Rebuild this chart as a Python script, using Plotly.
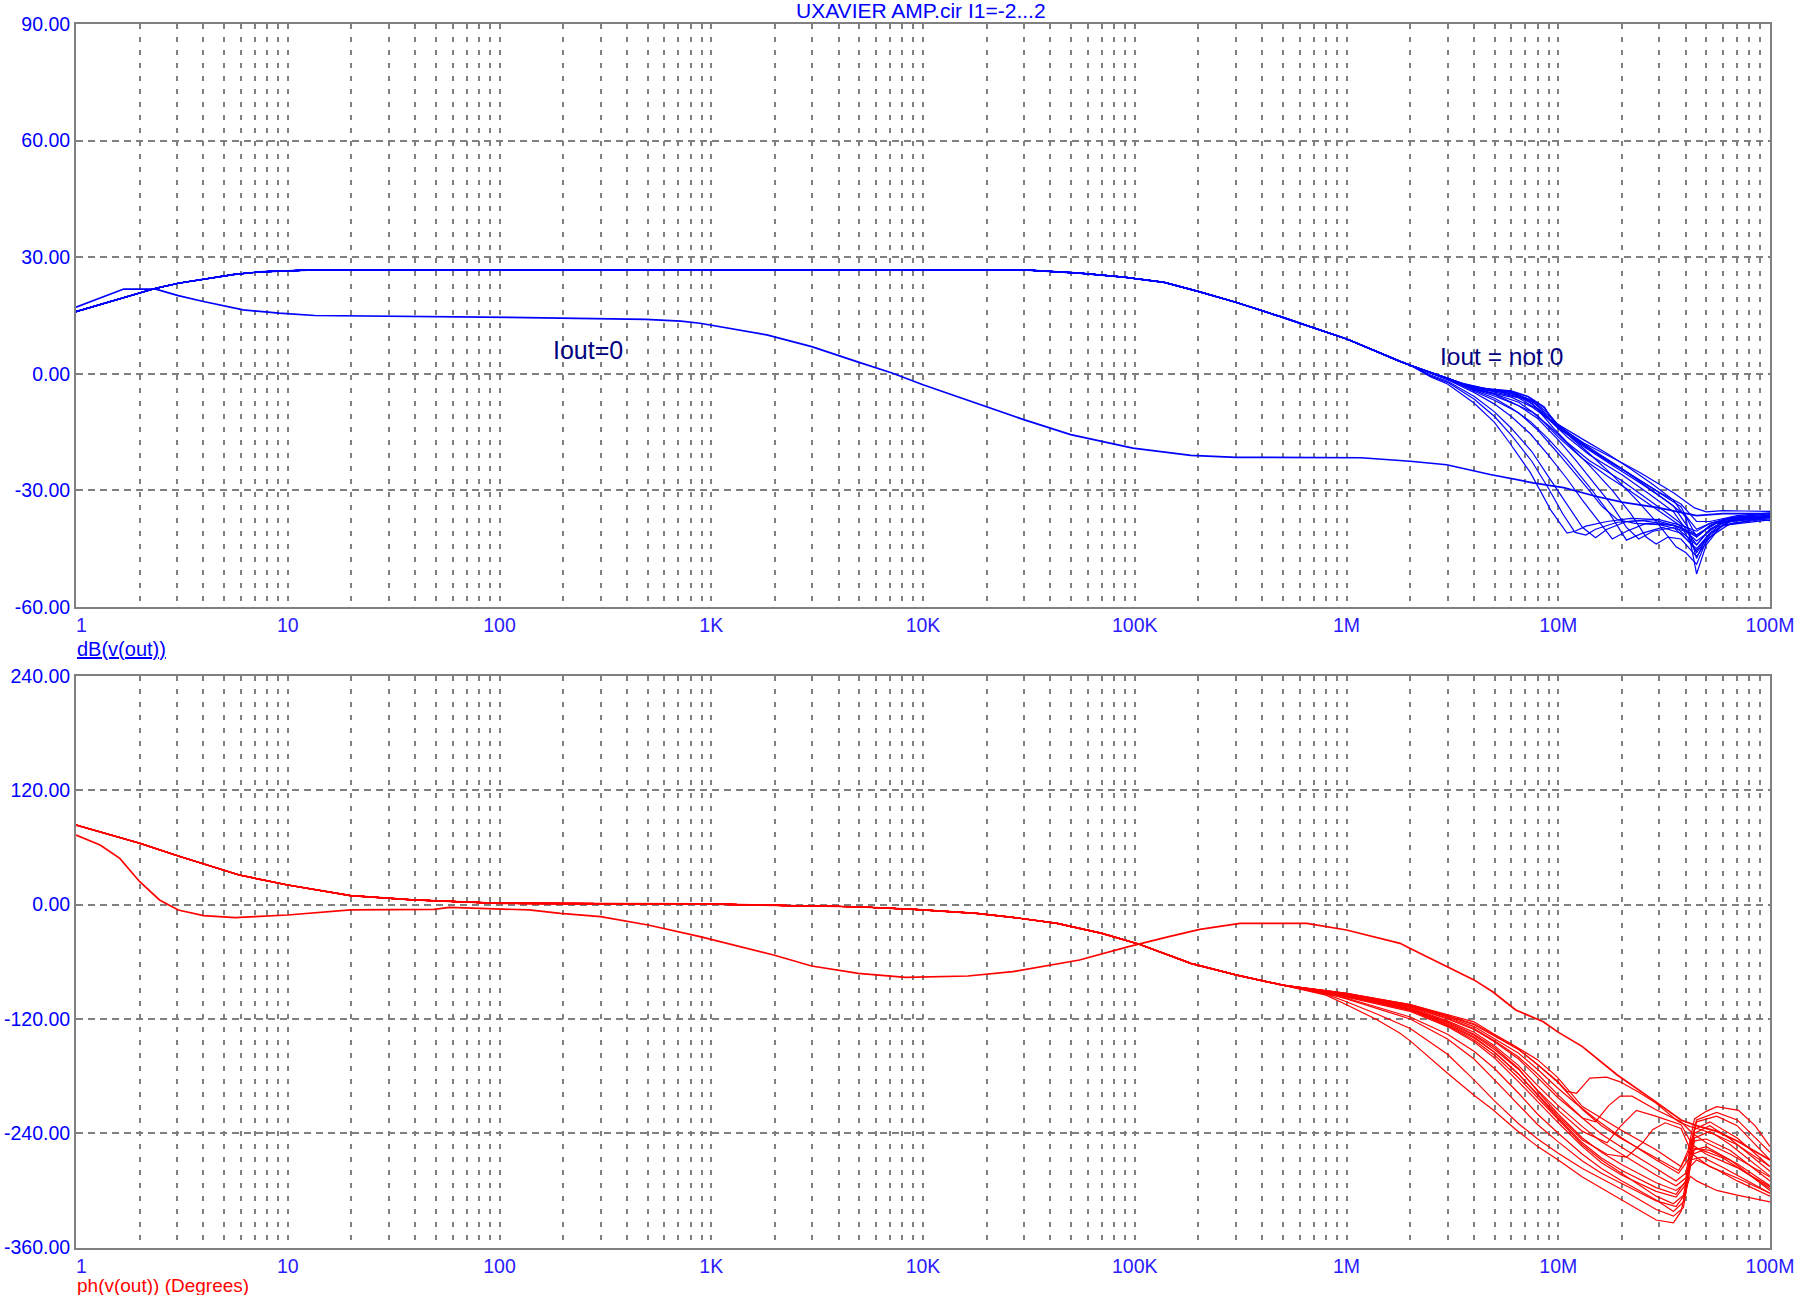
import plotly.graph_objects as go

# ---------------- page geometry (pixels in the 1808x1295 window) ----------------
W, H = 1808, 1295
X0, X1 = 76, 1770
TOP_Y0, TOP_Y1 = 24, 607
BOT_Y0, BOT_Y1 = 676, 1247.6

# ---------------- ticks ----------------
freq_ticks = [1, 10, 100, 1e3, 1e4, 1e5, 1e6, 1e7, 1e8]
freq_tick_labels = ["\u20071", "10", "100", "1K", "10K", "100K", "1M", "10M", "100M"]
db_ticks = [-60, -30, 0, 30, 60, 90]
db_tick_labels = ["-60.00", "-30.00", "0.00", "30.00", "60.00", "90.00"]
deg_ticks = [-360, -240, -120, 0, 120, 240]
deg_tick_labels = ["-360.00", "-240.00", "-120.00", "0.00", "120.00", "240.00"]

# ---------------- magnitude: Iout != 0 common trunk (Hz, dB) ----------------
trunk_mag_f = [1, 1.54, 2.0, 2.38, 3.04, 4, 5.6, 7.3, 12.4, 31.3e3, 54.8e3, 89e3, 138e3,
               199e3, 300e3, 488e3, 792e3, 1.01e6, 1.79e6, 2.0e6]
trunk_mag_db = [16.0, 19.0, 20.9, 22.0, 23.3, 24.3, 25.6, 26.2, 26.7, 26.7, 25.9, 24.85, 23.5,
                21.2, 18.4, 14.7, 10.9, 8.9, 3.2, 2.2]

# ---------------- magnitude: Iout = 0 curve (Hz, dB) ----------------
iout0_mag_f = [1, 1.68, 2.38, 3.04, 4, 6.16, 9.1, 13.4, 111, 490, 720, 885, 1.83e3, 2.98e3,
               4.83e3, 7.14e3, 10e3, 19.8e3, 29.9e3, 49.8e3, 98e3, 184e3, 300e3, 1.17e6,
               2.0e6, 2.97e6, 4.77e6, 7.6e6, 10.6e6, 15e6, 20e6, 30e6, 45e6, 60e6, 100e6]
iout0_mag_db = [17.15, 21.8, 21.8, 20.1, 18.6, 16.45, 15.6, 15.0, 14.5, 14.0, 13.55, 13.0, 10.0,
                7.0, 3.2, 0.2, -2.8, -8.4, -11.8, -15.65, -19.1, -21.0, -21.5, -21.6,
                -22.5, -23.4, -25.9, -28.06, -29.3, -31.5, -33.0, -34.5, -36.5, -36.0, -36.0]

# ---------------- magnitude: swept family above ~2 MHz (MHz, dB) ----------------
fan_mag_f_mhz = [
    [2.5, 3, 4, 5, 5.9, 7.4, 9.2, 11, 12, 13.5, 17, 22, 30, 38, 45, 52, 65, 100],
    [2.5, 3, 4, 5, 6, 7.5, 9, 11, 13, 15, 17, 21, 28, 38, 45, 52, 65, 100],
    [3, 4, 5, 6, 7.4, 9, 11, 13, 15.5, 18, 21, 26, 35, 45, 52, 65, 100],
    [3, 4, 5, 6, 7.4, 9, 11, 14, 17.5, 21, 25, 31, 38, 45, 52, 65, 100],
    [3, 4, 5, 6, 7.5, 9, 11, 14, 18, 22, 26, 29, 33, 38, 45, 52, 65, 100],
    [3, 4, 6, 7.5, 9, 11, 14, 18, 24, 30, 36, 40, 45, 50, 60, 100],
    [4, 6, 7.2, 8.6, 9.6, 11, 13.2, 17, 22, 28, 35, 40, 45, 50, 60, 75, 100],
    [4, 6, 7.2, 8.6, 9.6, 13.2, 20, 24.5, 35, 44, 50, 60, 75, 100],
    [4, 6, 7.5, 9, 11, 14, 20, 27, 35, 41, 45, 50, 60, 100],
    [4, 6, 7.5, 9, 11, 14, 20, 27, 35, 45, 52, 65, 100],
    [3.5, 5, 6.5, 8, 9.5, 11, 14, 20, 27, 33, 40, 45, 55, 100],
    [3.5, 5, 6.5, 8, 10, 13, 17, 22, 28, 38, 45, 52, 65, 100],
    [3.5, 5, 7, 8.5, 10, 12, 16, 22, 30, 38, 45, 52, 70, 100],
    [3, 4, 5, 6.5, 8, 10, 12, 14, 16, 19, 23, 30, 40, 45, 55, 100],
    [3.5, 5, 6.5, 8, 9, 10.5, 13, 18, 25, 33, 40, 45, 52, 70, 100],
    [3, 4, 5, 6.5, 8, 10, 12, 15, 18, 21, 24, 28, 35, 45, 52, 65, 100],
    [2.5, 3, 4, 5, 6, 7.5, 9, 10.5, 12, 13.5, 15, 19, 25, 35, 45, 55, 100],
    [4, 6, 7.5, 9, 10, 12, 16, 22, 30, 38, 45, 50, 60, 100],
]
fan_mag_db = [
    [-0.8, -2.6, -7.5, -12.5, -17.8, -25.5, -35, -41, -40.5, -39.2, -38, -37.2, -37.5, -39, -40.5, -38.5, -37, -36.5],
    [-0.3, -1.9, -5.8, -9.8, -14, -20, -26.5, -33.5, -39.5, -42.2, -40, -38, -37.5, -39.5, -42, -39, -37.2, -36.6],
    [-1.5, -4.8, -7.8, -11, -15.5, -21, -27, -32.5, -38, -42.5, -40.5, -38.5, -39, -44, -40, -37.5, -36.8],
    [-1.2, -4.2, -6.3, -8.8, -12.3, -16.8, -22, -29, -36, -42.8, -41, -39.5, -41, -45.5, -41, -38, -37],
    [-1.1, -3.9, -5.3, -7.3, -9.8, -13.3, -17.8, -23.5, -30, -36, -42, -43.8, -42, -42.5, -47, -42, -38.5, -37.3],
    [-1.1, -3.8, -6, -8.5, -11.7, -15.5, -20.5, -26, -33, -39, -44.5, -46, -49, -43, -39, -37.6],
    [-3.7, -4.5, -5.9, -8.8, -12.5, -14.5, -17, -20.5, -24.5, -28.5, -32.5, -37, -51.5, -44, -38.5, -37, -37.8],
    [-3.5, -4.4, -5.8, -8.5, -12.8, -17.8, -22.9, -25.5, -30.6, -34.5, -35.5, -35.2, -35.3, -35.4],
    [-3.7, -4.8, -7, -10.8, -15, -19.3, -24.5, -29.5, -34, -39.5, -47.5, -42, -38, -36.2],
    [-3.8, -5, -7.6, -11.8, -16.2, -20.8, -26, -31, -35.5, -44, -40, -37, -36],
    [-2.6, -4.6, -6.2, -9.2, -14, -17.6, -22.3, -27.5, -32.5, -36, -39.5, -41.5, -38.5, -36.5],
    [-2.8, -5.2, -7.3, -10.8, -16.3, -21.8, -26.3, -30.3, -34.3, -39.2, -46, -41.5, -37.5, -36.8],
    [-2.4, -4.3, -6.5, -10, -14, -17, -21.5, -26, -30.5, -33.5, -38, -38, -36.5, -35.8],
    [-1.3, -4.5, -6.8, -10, -14.5, -20.5, -25.5, -30, -34, -37.5, -38.5, -38.8, -40.5, -43, -39.5, -36.7],
    [-2.5, -4.4, -5.6, -8, -11.5, -14.5, -18.5, -23.5, -28.5, -33, -36.5, -40, -38.5, -36.8, -36],
    [-1.2, -4.0, -5.7, -8.2, -11.5, -17, -22, -28.5, -34, -39.5, -42.5, -40.5, -39.5, -45, -41, -38, -37],
    [-0.6, -2.2, -6.5, -11, -15.8, -22.5, -29.5, -36, -40.8, -41.5, -40, -38.2, -37.8, -39, -41.5, -38.5, -36.6],
    [-3.6, -4.6, -6.8, -10.2, -13.2, -16.5, -21, -25.8, -30.5, -34.2, -42, -40, -37.5, -36.4],
]

# ---------------- phase: Iout != 0 common trunk (Hz, degrees) ----------------
trunk_ph_f = [1, 2, 3.04, 4, 5.9, 10, 19.8, 39, 101, 890, 4.84e3, 9.1e3, 17.9e3, 26.5e3,
              43e3, 70e3, 105e3, 184e3, 300e3, 500e3]
trunk_ph_deg = [83.6, 64.4, 51.1, 42.7, 31.1, 20.6, 9.4, 4.9, 1.4, 0.7, -2.2, -4.9, -9.1, -13.3,
                -19.6, -30.1, -41.6, -61.6, -73.8, -84.5]

# ---------------- phase: Iout = 0 curve (Hz, degrees) ----------------
iout0_ph_f = [1, 1.3, 1.61, 2.0, 2.48, 3.04, 4, 5.65, 7, 10, 19.8, 49, 58, 138, 194, 300, 503,
              885, 1.97e3, 2.98e3, 4.95e3, 8.26e3, 16.3e3, 26.5e3, 54.8e3, 93.5e3, 145e3,
              203e3, 314e3, 650e3, 1.0e6, 1.79e6, 2.0e6, 4.0e6, 4.9e6, 6.3e6, 8.5e6, 9.9e6,
              13e6, 19e6, 28.8e6, 38e6, 45e6, 56e6, 70e6, 100e6]
iout0_ph_deg = [73, 62.6, 48.6, 24.1, 4.9, -5.6, -11.6, -13.7, -12.6, -10.9, -5.6, -4.9, -2.8,
                -5.6, -9.1, -12.6, -21.4, -33.6, -52.9, -64.4, -72.1, -76.3, -74.9, -70.4,
                -58.1, -44.1, -33.6, -25.9, -19.6, -19.6, -26.6, -40.6, -46, -79, -91.4,
                -110.6, -122.9, -133.3, -149, -178.8, -206.8, -226, -232, -238, -248, -268]

# ---------------- phase: swept family above ~0.5 MHz (MHz, degrees) ----------------
fan_ph_f_mhz = [
    [0.8, 1.0, 1.4, 1.79, 2, 3, 4, 4.9, 6.3, 8, 10, 13, 20, 25, 29, 35, 38, 40, 42, 45, 56, 70, 100],
    [0.8, 1.0, 1.4, 2, 3, 4, 5, 6.5, 8, 10, 13, 20, 29, 35, 39, 42, 45, 56, 70, 100],
    [0.8, 1.0, 1.79, 2, 3, 4, 5, 6.5, 8, 10, 13, 16, 20, 29, 36, 40, 43, 48, 60, 100],
    [1, 2, 3, 4, 5, 6.5, 8, 10, 13, 16, 20, 29, 36, 40, 44, 50, 65, 100],
    [1, 2, 3, 4, 5, 6.5, 8, 10, 13, 16, 20, 29, 36, 40, 44, 52, 65, 100],
    [1, 2, 3, 4, 5, 6.5, 8, 10, 12, 15, 20, 29, 37, 41, 45, 56, 70, 100],
    [1, 2, 3, 4, 4.9, 6.1, 8, 9.9, 13, 19.6, 28.8, 38, 41, 44, 50, 56, 71, 85, 100],
    [1, 2, 3, 4, 5, 6.5, 8, 9.9, 11, 12.2, 13, 14.1, 16.9, 19.6, 24, 28.8, 37, 42, 47, 56, 70, 100],
    [1, 2, 3, 4, 5, 6.5, 8, 10, 13, 15, 17.3, 19.6, 22.3, 28.8, 38, 43, 50, 65, 100],
    [1, 2, 3, 4, 5, 6.5, 8, 10, 13, 17, 19.6, 23.4, 28.8, 38, 43, 50, 70, 100],
    [1, 2, 3, 4, 5, 6.5, 8, 10, 13, 17, 21, 25, 28, 32, 38, 43, 52, 70, 100],
    [1, 2, 3, 4, 5, 6.5, 8, 10, 13, 16, 20, 29, 36, 40, 44, 52, 65, 100],
    [1, 2, 3, 4, 5, 6.5, 8, 10, 13, 16, 20, 29, 36, 40, 44, 52, 70, 100],
    [1, 2, 3, 4, 5, 6.5, 8, 10, 13, 16, 20, 29, 36, 40, 44, 52, 70, 100],
    [1, 2, 3, 4, 5, 6.5, 8, 10, 13, 16, 20, 29, 37, 41, 45, 56, 70, 100],
    [1, 2, 3, 4, 5, 6.5, 8, 10, 13, 16, 20, 29, 35, 39, 43, 50, 65, 100],
    [1, 2, 3, 4, 5, 6.5, 8, 10, 13, 16, 20, 29, 35, 39, 42, 48, 60, 100],
]
fan_ph_deg = [
    [-95, -105, -121, -135, -143, -177, -200, -215, -236, -254, -268, -286, -310, -322, -331, -334, -322, -300, -285, -290, -300, -305, -312],
    [-94, -102, -115, -130, -157, -184, -206, -230, -246, -261, -277, -299, -320, -327, -318, -275, -268, -278, -290, -306],
    [-93, -99, -116, -120, -141, -162, -184, -210, -231, -249, -269, -282, -293, -311, -317, -303, -262, -258, -266, -298],
    [-97, -112, -128, -144, -161, -186, -207, -229, -254, -271, -284, -301, -307, -294, -248, -246, -258, -290],
    [-95, -108, -122, -134, -148, -169, -190, -211, -233, -249, -262, -284, -295, -287, -240, -232, -246, -280],
    [-94, -106, -118, -128, -141, -156, -173, -193, -208, -225, -245, -268, -282, -268, -228, -222, -232, -268],
    [-93, -105, -116, -123, -135, -147, -163, -181, -212, -236, -257, -275, -258, -225, -217, -212, -216, -232, -254],
    [-93, -105, -117, -125, -137, -152, -168, -185, -196, -198, -191, -182, -181, -186, -197, -208, -228, -233, -236, -242, -252, -275],
    [-94, -107, -120, -131, -144, -162, -182, -203, -224, -228, -211, -201, -201, -215, -228, -240, -250, -262, -286],
    [-95, -109, -124, -137, -152, -173, -195, -216, -238, -250, -233, -216, -222, -231, -252, -262, -276, -296],
    [-96, -110, -126, -140, -155, -178, -199, -222, -247, -262, -265, -250, -236, -229, -235, -262, -275, -287, -303],
    [-95, -109, -123, -136, -150, -172, -196, -220, -245, -260, -273, -292, -300, -292, -245, -238, -252, -285],
    [-96, -110, -125, -139, -155, -178, -200, -224, -250, -266, -279, -297, -304, -290, -256, -258, -272, -295],
    [-94, -107, -119, -130, -143, -160, -178, -200, -224, -241, -255, -277, -290, -282, -236, -228, -245, -275],
    [-93, -106, -117, -126, -138, -152, -168, -187, -215, -232, -246, -266, -279, -262, -226, -218, -226, -260],
    [-96, -111, -127, -142, -158, -182, -203, -226, -252, -268, -282, -306, -314, -305, -258, -254, -268, -300],
    [-98, -118, -136, -154, -172, -198, -220, -240, -262, -277, -290, -310, -322, -312, -268, -265, -276, -303],
]

BLUE = "#0000FF"
RED = "#FF0000"
GRID = "#808080"
FONT = "Liberation Sans, Arial, sans-serif"

fig = go.Figure()

# magnitude traces
for ff, dd in zip(fan_mag_f_mhz, fan_mag_db):
    fig.add_trace(go.Scatter(x=trunk_mag_f + [v * 1e6 for v in ff], y=trunk_mag_db + dd,
                             mode="lines", line=dict(color=BLUE, width=1.2),
                             xaxis="x", yaxis="y", showlegend=False, hoverinfo="skip"))
fig.add_trace(go.Scatter(x=trunk_mag_f, y=trunk_mag_db, mode="lines",
                         line=dict(color=BLUE, width=1.7), xaxis="x", yaxis="y",
                         showlegend=False))
fig.add_trace(go.Scatter(x=iout0_mag_f, y=iout0_mag_db, mode="lines",
                         line=dict(color=BLUE, width=1.7), xaxis="x", yaxis="y",
                         showlegend=False))

# phase traces
for ff, dd in zip(fan_ph_f_mhz, fan_ph_deg):
    fig.add_trace(go.Scatter(x=trunk_ph_f + [v * 1e6 for v in ff], y=trunk_ph_deg + dd,
                             mode="lines", line=dict(color=RED, width=1.2),
                             xaxis="x2", yaxis="y2", showlegend=False, hoverinfo="skip"))
fig.add_trace(go.Scatter(x=trunk_ph_f, y=trunk_ph_deg, mode="lines",
                         line=dict(color=RED, width=1.7), xaxis="x2", yaxis="y2",
                         showlegend=False))
fig.add_trace(go.Scatter(x=iout0_ph_f, y=iout0_ph_deg, mode="lines",
                         line=dict(color=RED, width=1.7), xaxis="x2", yaxis="y2",
                         showlegend=False))


def px_x(p):
    return p / W


def px_y(p):
    return 1 - p / H


minor_vals = [k * 10 ** n for n in range(8) for k in range(2, 10)]

xcommon = dict(type="log", range=[0, 8], domain=[px_x(X0), px_x(X1)],
               tickvals=freq_ticks, ticktext=freq_tick_labels,
               tickfont=dict(family=FONT, size=19.5, color="#2a1aff"),
               showgrid=True, gridcolor=GRID, griddash="5px,8px", gridwidth=1.5,
               minor=dict(tickvals=minor_vals, showgrid=True, gridcolor=GRID,
                          griddash="5px,8px", gridwidth=1.5, ticks=""),
               showline=True, mirror=True, linecolor=GRID, linewidth=2,
               ticks="", zeroline=False, fixedrange=True, automargin=False)
ycommon = dict(showgrid=True, gridcolor=GRID, griddash="7px,5px", gridwidth=1.5,
               showline=True, mirror=True, linecolor=GRID, linewidth=2,
               ticks="", zeroline=False, automargin=False,
               tickfont=dict(family=FONT, size=19.5, color=BLUE))

fig.update_layout(
    width=W, height=H,
    margin=dict(l=0, r=0, t=0, b=0, pad=0, autoexpand=False),
    paper_bgcolor="white", plot_bgcolor="white",
    xaxis=dict(anchor="y", **xcommon),
    yaxis=dict(anchor="x", domain=[px_y(TOP_Y1), px_y(TOP_Y0)], range=[-60, 90],
               tickvals=db_ticks, ticktext=db_tick_labels, **ycommon),
    xaxis2=dict(anchor="y2", **xcommon),
    yaxis2=dict(anchor="x2", domain=[px_y(BOT_Y1), px_y(BOT_Y0)], range=[-360, 240],
                tickvals=deg_ticks, ticktext=deg_tick_labels, **ycommon),
    showlegend=False,
)

annotations = [
    dict(text="UXAVIER AMP.cir I1=-2...2", x=px_x(921), y=px_y(11), xref="paper", yref="paper",
         xanchor="center", yanchor="middle", showarrow=False,
         font=dict(family=FONT, size=21, color=BLUE)),
    dict(text="<u>dB(v(out))</u>", x=px_x(75), y=px_y(649), xref="paper", yref="paper",
         xanchor="left", yanchor="middle", showarrow=False,
         font=dict(family=FONT, size=20, color=BLUE)),
    dict(text="ph(v(out)) (Degrees)", x=px_x(75), y=px_y(1285), xref="paper", yref="paper",
         xanchor="left", yanchor="middle", showarrow=False,
         font=dict(family=FONT, size=19, color=RED)),
    dict(text="Iout=0", x=px_x(588), y=px_y(350), xref="paper", yref="paper",
         xanchor="center", yanchor="middle", showarrow=False,
         font=dict(family=FONT, size=25, color="#000080")),
    dict(text="Iout = not 0", x=px_x(1501), y=px_y(356), xref="paper", yref="paper",
         xanchor="center", yanchor="middle", showarrow=False,
         font=dict(family=FONT, size=24.5, color="#000080")),
]
fig.update_layout(annotations=annotations)

# remove the browser's default 8px body margin so the figure fills the window exactly
fig.write_html("out.html", config={"displayModeBar": False},
               post_script="document.body.style.margin='0';document.body.style.overflow='hidden';")
